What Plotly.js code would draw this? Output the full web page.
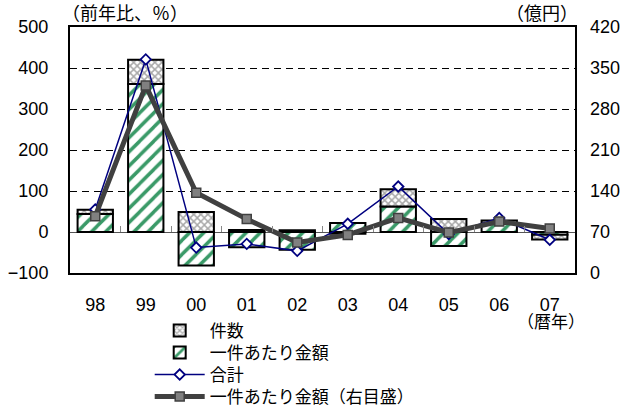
<!DOCTYPE html>
<html>
<head>
<meta charset="utf-8">
<script src="https://cdn.plot.ly/plotly-3.0.1.min.js"></script>
<style>html,body{margin:0;padding:0;background:#fff;}#chart{width:629px;height:409px;}</style>
</head>
<body>
<div id="chart"></div>
<script>
// ---- data ----
const years = ['98','99','00','01','02','03','04','05','06','07'];
const kensu = [10, 59, 49, 5, 4, -4, 42, 32, 8, -11];          // 件数 (前年比, %)
const ikken = [44, 361, -82, -37, -43, 22, 62, -34, 20, -7];     // 一件あたり金額 (前年比, %)
const goukei = [55, 421, -38, -29, -46, 20, 111, -5, 34, -19];  // 合計 (前年比, %)
const ikkenAmount = [97, 320, 137, 92, 52, 65, 94, 69, 88, 76]; // 一件あたり金額 (億円, 右目盛)
const leftTicks = [-100, 0, 100, 200, 300, 400, 500];
const rightTicks = [0, 70, 140, 210, 280, 350, 420];

const numFont = "'Liberation Sans', Arial, sans-serif";
const jpFont = "'Noto Sans CJK JP', sans-serif";

const boundaries = years.slice(0, -1).map((_, i) => i + 0.5);

const traces = [
  {
    type: 'bar', x: years, y: ikken, name: '一件あたり金額', legend: 'legend2',
    marker: {color: '#ffffff', line: {color: '#000', width: 2},
      pattern: {shape: '/', fgcolor: '#3a9a68', bgcolor: '#ffffff', size: 10, solidity: 0.35}},
    hoverinfo: 'skip'
  },
  {
    type: 'bar', x: years, y: kensu, name: '件数', legend: 'legend',
    marker: {color: '#ffffff', line: {color: '#000', width: 2},
      pattern: {shape: 'x', fgcolor: '#a8a8a8', bgcolor: '#ffffff', size: 5, solidity: 0.5}},
    hoverinfo: 'skip'
  },
  {
    type: 'scatter', mode: 'lines+markers', x: years, y: goukei, name: '合計', legend: 'legend3',
    line: {color: '#000080', width: 1.5},
    marker: {symbol: 'diamond', size: 8, color: '#ffffff', line: {color: '#000080', width: 1.8}}
  },
  {
    type: 'scatter', mode: 'lines+markers', x: years, y: ikkenAmount, yaxis: 'y2',
    name: '一件あたり金額（右目盛）', legend: 'legend4',
    line: {color: '#404040', width: 5},
    marker: {symbol: 'square', size: 9, color: '#808080', line: {color: '#404040', width: 1.5}}
  },
  {
    type: 'scatter', x: [], y: [], xaxis: 'x2', showlegend: false, hoverinfo: 'skip'
  }
];

function legendAt(yc) {
  return {
    xref: 'container', yref: 'container',
    x: 0.238, xanchor: 'left', y: 1 - yc / 409, yanchor: 'middle',
    itemwidth: 50, font: {family: jpFont, size: 17}, bgcolor: 'rgba(0,0,0,0)'
  };
}

const layout = {
  width: 629, height: 409,
  margin: {l: 70, r: 54, t: 27, b: 136, autoexpand: false},
  paper_bgcolor: '#fff', plot_bgcolor: '#fff',
  barmode: 'relative', bargap: 0.3,
  showlegend: true,
  font: {family: numFont, size: 18, color: '#000'},
  xaxis: {
    type: 'category', range: [-0.5, 9.5],
    showline: true, linecolor: '#000', linewidth: 2, mirror: true,
    ticks: '', showgrid: false, ticklabelstandoff: 14,
    tickfont: {family: numFont, size: 18}
  },
  xaxis2: {
    overlaying: 'x', anchor: 'free', position: (0 - leftTicks[0]) / (leftTicks[leftTicks.length-1] - leftTicks[0]),
    range: [-0.5, 9.5], tickmode: 'array', tickvals: boundaries,
    ticks: 'inside', ticklen: 6, tickwidth: 1, tickcolor: '#888',
    showticklabels: false, showgrid: false, showline: false, zeroline: false
  },
  yaxis: {
    range: [leftTicks[0], leftTicks[leftTicks.length-1]], tickmode: 'array', tickvals: leftTicks,
    showline: true, linecolor: '#000', linewidth: 2, mirror: true,
    ticks: '', ticklabelstandoff: 16,
    showgrid: true, gridcolor: '#000', gridwidth: 1, griddash: '7px,5px',
    zeroline: true, zerolinecolor: '#555', zerolinewidth: 1,
    tickfont: {family: numFont, size: 18}
  },
  yaxis2: {
    overlaying: 'y', side: 'right',
    range: [rightTicks[0], rightTicks[rightTicks.length-1]], tickmode: 'array', tickvals: rightTicks,
    showgrid: false, zeroline: false, showline: false, ticks: '', ticklabelstandoff: 14,
    tickfont: {family: numFont, size: 18}
  },
  legend: legendAt(331),
  legend2: legendAt(353),
  legend3: legendAt(375),
  legend4: legendAt(397),
  annotations: [
    {text: '（前年比、％）', xref: 'paper', yref: 'paper', x: -0.02, y: 1.06,
      xanchor: 'left', yanchor: 'middle', showarrow: false, font: {family: jpFont, size: 18}},
    {text: '（億円）', xref: 'paper', yref: 'paper', x: 1.01, y: 1.06,
      xanchor: 'right', yanchor: 'middle', showarrow: false, font: {family: jpFont, size: 18}},
    {text: '（暦年）', xref: 'paper', yref: 'paper', x: 0.952, y: -0.195,
      xanchor: 'center', yanchor: 'middle', showarrow: false, font: {family: jpFont, size: 17}}
  ]
};

Plotly.newPlot('chart', traces, layout, {staticPlot: true, displayModeBar: false});
</script>
</body>
</html>
